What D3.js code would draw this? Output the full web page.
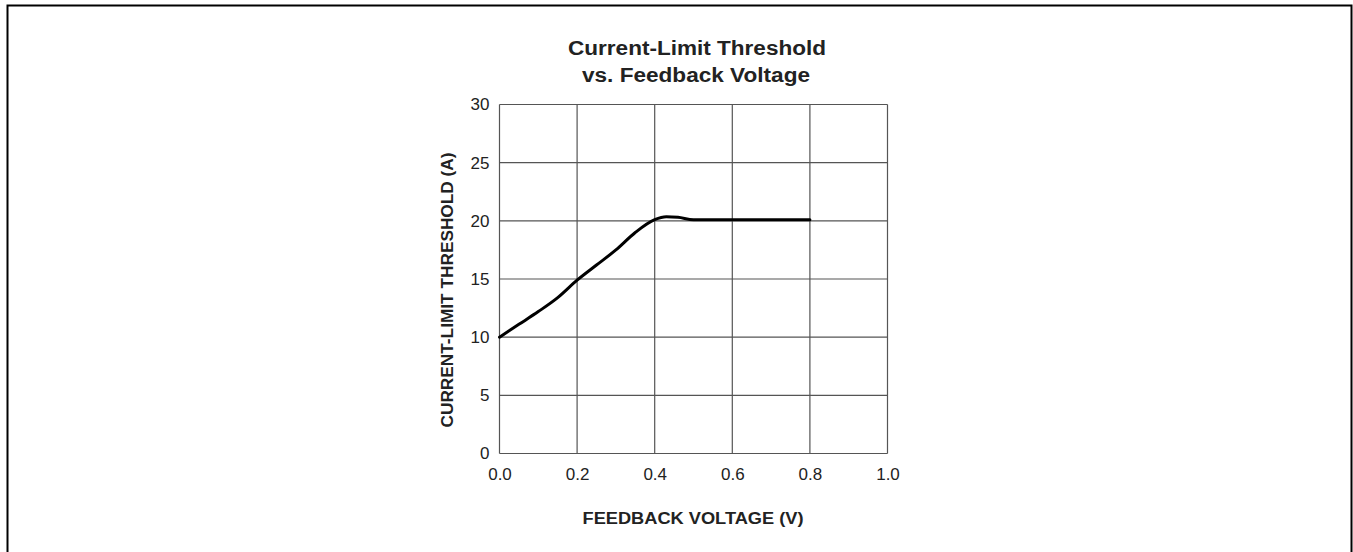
<!DOCTYPE html>
<html>
<head>
<meta charset="utf-8">
<script src="https://cdn.jsdelivr.net/npm/d3@7"></script>
<style>
  html, body { margin: 0; padding: 0; background: #fff; }
  svg { display: block; font-family: Arial, "Liberation Sans", sans-serif; }
</style>
</head>
<body>
<svg id="chart" width="1353" height="552"></svg>
<script>
// Current-limit threshold (A) as a function of feedback voltage (V)
const feedbackVoltage = [0, 0.05, 0.1, 0.15, 0.2, 0.25, 0.3, 0.35, 0.4, 0.43, 0.46, 0.5, 0.6, 0.7, 0.8];
const currentLimit    = [10, 11.1, 12.2, 13.4, 14.9, 16.2, 17.5, 19.0, 20.1, 20.35, 20.3, 20.1, 20.1, 20.1, 20.1];
const xTicks = [0, 0.2, 0.4, 0.6, 0.8, 1.0];
const yTicks = [0, 5, 10, 15, 20, 25, 30];

const svg = d3.select("#chart");

// outer frame
svg.append("rect")
  .attr("x", 7.5).attr("y", 5.5)
  .attr("width", 1344).attr("height", 600)
  .attr("fill", "none").attr("stroke", "#000").attr("stroke-width", 2);

const plot = { left: 499.5, right: 887.5, top: 104.5, bottom: 453.5 };

const x = d3.scaleLinear().domain([0, 1]).range([plot.left, plot.right]);
const y = d3.scaleLinear().domain([0, 30]).range([plot.bottom, plot.top]);

// grid
const g = svg.append("g");
g.selectAll("line.vx").data(xTicks).join("line")
  .attr("x1", d => x(d)).attr("x2", d => x(d))
  .attr("y1", plot.top).attr("y2", plot.bottom)
  .attr("stroke", "#555").attr("stroke-width", 1.2);
g.selectAll("line.hy").data(yTicks).join("line")
  .attr("y1", d => y(d)).attr("y2", d => y(d))
  .attr("x1", plot.left).attr("x2", plot.right)
  .attr("stroke", "#555").attr("stroke-width", 1.2);

// axes (tick labels only)
const xAxis = svg.append("g")
  .attr("transform", `translate(0,${plot.bottom})`)
  .call(d3.axisBottom(x).tickValues(xTicks).tickFormat(d3.format(".1f")).tickSize(0).tickPadding(14));
const yAxis = svg.append("g")
  .attr("transform", `translate(${plot.left},0)`)
  .call(d3.axisLeft(y).tickValues(yTicks).tickFormat(d3.format("d")).tickSize(0).tickPadding(10));
[xAxis, yAxis].forEach(a => {
  a.select(".domain").remove();
  a.selectAll("text").attr("font-size", 17).attr("fill", "#222")
    .attr("font-family", "Arial, 'Liberation Sans', sans-serif");
});

// curve
const line = d3.line()
  .x((d, i) => x(feedbackVoltage[i]))
  .y(d => y(d))
  .curve(d3.curveMonotoneX);
svg.append("path")
  .datum(currentLimit)
  .attr("d", line)
  .attr("fill", "none").attr("stroke", "#000").attr("stroke-width", 3)
  .attr("stroke-linejoin", "round").attr("stroke-linecap", "round");

// titles
const title = svg.append("text")
  .attr("text-anchor", "middle").attr("font-weight", "bold").attr("font-size", 20).attr("fill", "#222");
title.append("tspan").attr("x", 697).attr("y", 55)
  .attr("textLength", 258).attr("lengthAdjust", "spacingAndGlyphs").text("Current-Limit Threshold");
title.append("tspan").attr("x", 696).attr("y", 82)
  .attr("textLength", 228).attr("lengthAdjust", "spacingAndGlyphs").text("vs. Feedback Voltage");

svg.append("text")
  .attr("x", 693).attr("y", 524)
  .attr("text-anchor", "middle").attr("font-weight", "bold").attr("font-size", 16).attr("fill", "#222")
  .attr("textLength", 221).attr("lengthAdjust", "spacingAndGlyphs")
  .text("FEEDBACK VOLTAGE (V)");

svg.append("text")
  .attr("transform", `translate(453,290) rotate(-90)`)
  .attr("text-anchor", "middle").attr("font-weight", "bold").attr("font-size", 16).attr("fill", "#222")
  .attr("textLength", 275).attr("lengthAdjust", "spacingAndGlyphs")
  .text("CURRENT-LIMIT THRESHOLD (A)");
</script>
</body>
</html>
